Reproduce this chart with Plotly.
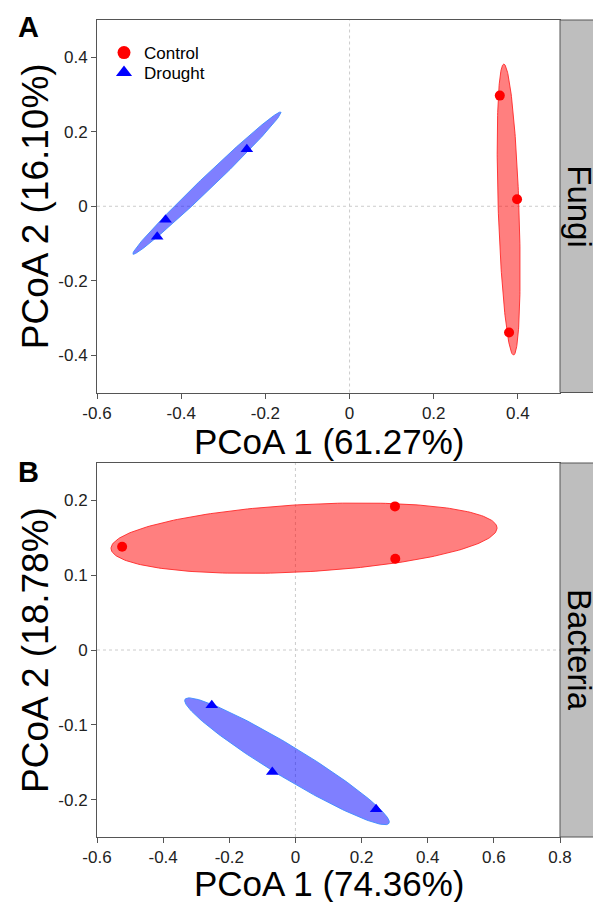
import numpy as np
import plotly.graph_objects as go

W, H = 593, 902

# ---------------- data ----------------
groups = ["Control", "Drought"]

# Panel A: Fungi
fungi_control_x = [0.357, 0.398, 0.379]
fungi_control_y = [0.297, 0.019, -0.339]
fungi_drought_x = [-0.244, -0.437, -0.457]
fungi_drought_y = [0.153, -0.036, -0.082]

# Panel B: Bacteria
bact_control_x = [-0.524, 0.301, 0.302]
bact_control_y = [0.138, 0.192, 0.122]
bact_drought_x = [-0.253, -0.070, 0.244]
bact_drought_y = [-0.074, -0.163, -0.213]

# Ellipses (Control, Drought): centre, semi-major vector (data units), minor/major ratio
fungi_ell_cx = [0.378, -0.339]
fungi_ell_cy = [-0.009, 0.062]
fungi_ell_ux = [-0.0115, 0.1758]
fungi_ell_uy = [0.3906, 0.1906]
fungi_ell_ratio = [0.0714, 0.062]

bact_ell_cx = [0.026, -0.0255]
bact_ell_cy = [0.1495, -0.1488]
bact_ell_ux = [0.5836, 0.3084]
bact_ell_uy = [0.0140, -0.0829]
bact_ell_ratio = [0.174, 0.131]

# Axis ticks
fungi_xticks = [-0.6, -0.4, -0.2, 0, 0.2, 0.4]
fungi_xlabels = ["-0.6", "-0.4", "-0.2", "0", "0.2", "0.4"]
fungi_yticks = [-0.4, -0.2, 0, 0.2, 0.4]
fungi_ylabels = ["-0.4", "-0.2", "0", "0.2", "0.4"]
bact_xticks = [-0.6, -0.4, -0.2, 0, 0.2, 0.4, 0.6, 0.8]
bact_xlabels = ["-0.6", "-0.4", "-0.2", "0", "0.2", "0.4", "0.6", "0.8"]
bact_yticks = [-0.2, -0.1, 0, 0.1, 0.2]
bact_ylabels = ["-0.2", "-0.1", "0", "0.1", "0.2"]

fungi_xrange = [-0.6, 0.5]
fungi_yrange = [-0.5, 0.5]
bact_xrange = [-0.6, 0.8]
bact_yrange = [-0.25, 0.25]

titles = {
    "fungi_x": "PCoA 1 (61.27%)",
    "fungi_y": "PCoA 2 (16.10%)",
    "bact_x": "PCoA 1 (74.36%)",
    "bact_y": "PCoA 2 (18.78%)",
}

# ---------------- layout geometry (pixels) ----------------
PX_L, PX_R = 97, 560
A_TOP, A_BOT = 20, 392.5
B_TOP, B_BOT = 463, 837

xdom = [PX_L / W, PX_R / W]
ydomA = [1 - A_BOT / H, 1 - A_TOP / H]
ydomB = [1 - B_BOT / H, 1 - B_TOP / H]

FONT = "Liberation Sans, Arial, Helvetica, sans-serif"
RED, BLUE = "#FF0000", "#0000FF"
RED_FILL, BLUE_FILL = "rgba(255,0,0,0.5)", "rgba(0,0,255,0.5)"
RED_LINE, BLUE_LINE = "rgba(255,40,40,0.9)", "rgba(60,140,255,0.9)"
AXC = "#555555"


def ellipse_xy(cx, cy, ux, uy, ratio, kx, ky, n=241):
    t = np.linspace(0, 2 * np.pi, n)
    vx = -uy * ky / kx * ratio
    vy = ux * kx / ky * ratio
    return cx + ux * np.cos(t) + vx * np.sin(t), cy + uy * np.cos(t) + vy * np.sin(t)


fig = go.Figure()

panels = [
    dict(xa="x", ya="y", xr=fungi_xrange, yr=fungi_yrange, top=A_TOP, bot=A_BOT,
         cx=fungi_ell_cx, cy=fungi_ell_cy, ux=fungi_ell_ux, uy=fungi_ell_uy, ratio=fungi_ell_ratio,
         pts=[(fungi_control_x, fungi_control_y), (fungi_drought_x, fungi_drought_y)]),
    dict(xa="x2", ya="y2", xr=bact_xrange, yr=bact_yrange, top=B_TOP, bot=B_BOT,
         cx=bact_ell_cx, cy=bact_ell_cy, ux=bact_ell_ux, uy=bact_ell_uy, ratio=bact_ell_ratio,
         pts=[(bact_control_x, bact_control_y), (bact_drought_x, bact_drought_y)]),
]

fills = [RED_FILL, BLUE_FILL]
lines = [RED_LINE, BLUE_LINE]
cols = [RED, BLUE]
symbols = ["circle", "triangle-up"]
sizes = [10, 11]

for p in panels:
    kx = (PX_R - PX_L) / (p["xr"][1] - p["xr"][0])
    ky = (p["bot"] - p["top"]) / (p["yr"][1] - p["yr"][0])
    for g in range(2):
        ex, ey = ellipse_xy(p["cx"][g], p["cy"][g], p["ux"][g], p["uy"][g], p["ratio"][g], kx, ky)
        fig.add_trace(go.Scatter(x=ex, y=ey, mode="lines", fill="toself", fillcolor=fills[g],
                                 line=dict(color=lines[g], width=1), xaxis=p["xa"], yaxis=p["ya"],
                                 showlegend=False, hoverinfo="skip"))
    for g in range(2):
        xs, ys = p["pts"][g]
        fig.add_trace(go.Scatter(x=xs, y=ys, mode="markers", xaxis=p["xa"], yaxis=p["ya"],
                                 marker=dict(symbol=symbols[g], color=cols[g], size=sizes[g]),
                                 name=groups[g], showlegend=False))

# legend-only traces (one legend box per group for tight spacing)
for g in range(2):
    fig.add_trace(go.Scatter(x=[None], y=[None], mode="markers", name=groups[g],
                             marker=dict(symbol=symbols[g], color=cols[g], size=[13, 14][g]),
                             xaxis="x", yaxis="y", showlegend=True,
                             legend=["legend", "legend2"][g]))

axis_common = dict(showline=True, linecolor=AXC, linewidth=1, mirror=True, ticks="outside",
                   ticklen=5, tickcolor=AXC, showgrid=False, zeroline=False, automargin=False,
                   tickfont=dict(family=FONT, size=17, color="#222222"))

legend_common = dict(xanchor="left", yanchor="middle", bgcolor="rgba(0,0,0,0)",
                     borderwidth=0, font=dict(family=FONT, size=17, color="black"),
                     itemwidth=30)

fig.update_layout(
    template="none",
    width=W, height=H, margin=dict(l=0, r=0, t=0, b=0, pad=0, autoexpand=False),
    paper_bgcolor="white", plot_bgcolor="white",
    font=dict(family=FONT, color="black"),
    xaxis=dict(domain=xdom, range=fungi_xrange, anchor="y", tickvals=fungi_xticks,
               ticktext=fungi_xlabels, **axis_common),
    yaxis=dict(domain=ydomA, range=fungi_yrange, anchor="x", tickvals=fungi_yticks,
               ticktext=fungi_ylabels, **axis_common),
    xaxis2=dict(domain=xdom, range=bact_xrange, anchor="y2", tickvals=bact_xticks,
                ticktext=bact_xlabels, **axis_common),
    yaxis2=dict(domain=ydomB, range=bact_yrange, anchor="x2", tickvals=bact_yticks,
                ticktext=bact_ylabels, **axis_common),
    legend=dict(x=104 / W, y=1 - 53 / H, **legend_common),
    legend2=dict(x=104 / W, y=1 - 73 / H, **legend_common),
    showlegend=True,
)

shapes = []
for xa, ya in [("x", "y"), ("x2", "y2")]:
    shapes.append(dict(type="line", xref=xa, yref=ya + " domain", x0=0, x1=0, y0=0, y1=1,
                       line=dict(color="#cccccc", width=1, dash="dot"), layer="below"))
    shapes.append(dict(type="line", xref=xa + " domain", yref=ya, x0=0, x1=1, y0=0, y1=0,
                       line=dict(color="#cccccc", width=1, dash="dot"), layer="below"))
# facet strips
for dom in [ydomA, ydomB]:
    shapes.append(dict(type="rect", xref="paper", yref="paper", x0=PX_R / W, x1=1.05,
                       y0=dom[0], y1=dom[1], fillcolor="#BEBEBE",
                       line=dict(color=AXC, width=1), layer="above"))
fig.update_layout(shapes=shapes)

ann = []
ann.append(dict(text="<b>A</b>", x=28 / W, y=1 - 27 / H))
ann.append(dict(text="<b>B</b>", x=28 / W, y=1 - 472 / H))
for a in ann:
    a.update(xref="paper", yref="paper", showarrow=False, xanchor="center", yanchor="middle",
             font=dict(family=FONT, size=29, color="black"))
titles_ann = [
    dict(text=titles["fungi_x"], x=(PX_L + PX_R) / 2 / W, y=1 - 441 / H, textangle=0,
         size=35),
    dict(text=titles["bact_x"], x=(PX_L + PX_R) / 2 / W, y=1 - 883 / H, textangle=0,
         size=35),
    dict(text=titles["fungi_y"], x=35 / W, y=1 - (A_TOP + A_BOT) / 2 / H, textangle=-90,
         size=37),
    dict(text=titles["bact_y"], x=35 / W, y=1 - (B_TOP + B_BOT) / 2 / H, textangle=-90,
         size=37),
]
for a in titles_ann:
    s = a.pop("size")
    a.update(xref="paper", yref="paper", showarrow=False, xanchor="center", yanchor="middle",
             font=dict(family=FONT, size=s, color="black"))
strip_ann = [
    dict(text="Fungi", x=580 / W, y=1 - (A_TOP + A_BOT) / 2 / H),
    dict(text="Bacteria", x=580 / W, y=1 - (B_TOP + B_BOT) / 2 / H),
]
for a in strip_ann:
    a.update(xref="paper", yref="paper", showarrow=False, xanchor="center", yanchor="middle",
             textangle=90, font=dict(family=FONT, size=33, color="black"))
fig.update_layout(annotations=ann + titles_ann + strip_ann)

fig.write_html("out.html",
               config={"displayModeBar": False},
               post_script="document.body.style.margin='0px';"
                           "document.body.style.overflow='hidden';")
